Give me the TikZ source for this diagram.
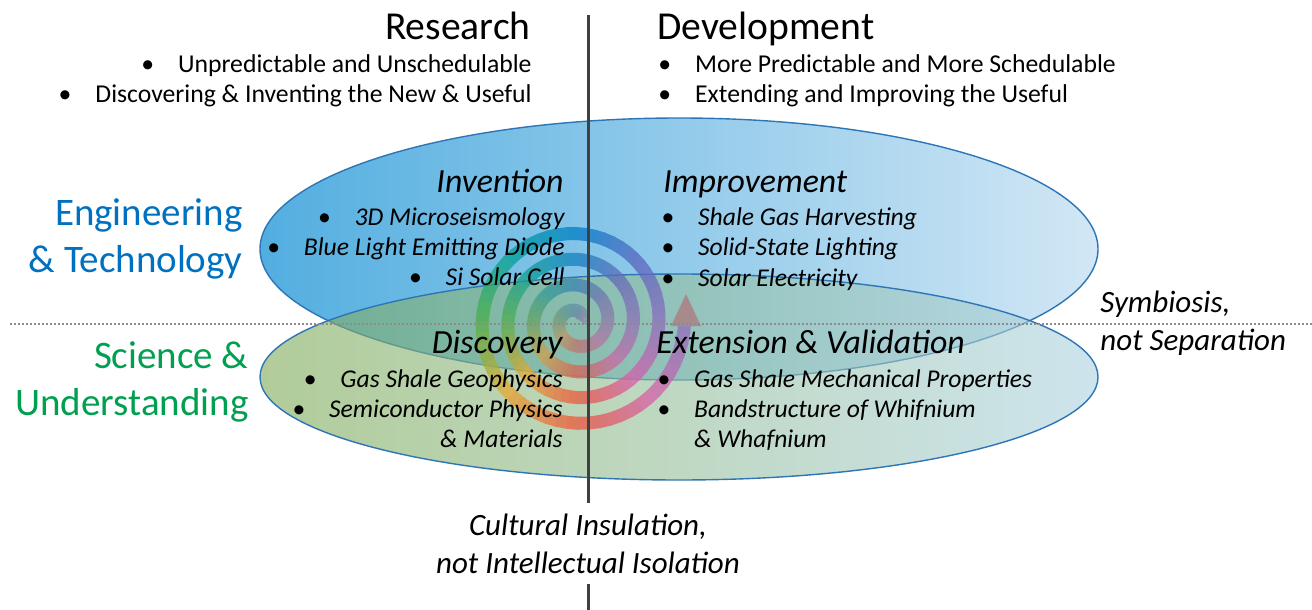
\documentclass[tikz,border=0pt]{standalone}
\usepackage{fontspec}
\setmainfont{Carlito}
\usepackage{tikz}
\definecolor{zoneline}{RGB}{46,117,182}
\definecolor{techL}{RGB}{82,174,224}
\definecolor{techR}{RGB}{210,231,245}
\definecolor{sciL}{RGB}{125,170,85}
\definecolor{sciR}{RGB}{172,210,225}
\definecolor{engblue}{RGB}{0,112,192}
\definecolor{scigreen}{RGB}{0,160,80}
\definecolor{axisgray}{RGB}{64,64,64}
\definecolor{dotgray}{RGB}{140,140,140}
\definecolor{arrowc}{RGB}{175,120,125}
\definecolor{spgray}{RGB}{150,140,150}
\definecolor{sp0}{RGB}{140,110,190}
\definecolor{sp1}{RGB}{90,100,190}
\definecolor{sp2}{RGB}{0,125,200}
\definecolor{sp3}{RGB}{0,160,150}
\definecolor{sp4}{RGB}{80,175,70}
\definecolor{sp5}{RGB}{230,170,50}
\definecolor{sp6}{RGB}{235,85,60}
\definecolor{sp7}{RGB}{215,95,170}
\newcommand{\blt}{\textbullet\hspace{12pt}}
\tikzstyle{techzone}=[draw=zoneline,line width=0.7pt,left color=techL,right color=techR]
\tikzstyle{scizone}=[draw=zoneline,line width=0.7pt,left color=sciL,right color=sciR,fill opacity=0.6]
\tikzstyle{spiralseg}=[line width=6.5pt,line cap=butt]
\tikzstyle{arrowtip}=[fill=arrowc]
\tikzstyle{axisline}=[draw=axisgray,line width=1.5pt]
\tikzstyle{midline}=[draw=dotgray,line width=1pt,dash pattern=on 1pt off 1pt]
\tikzstyle{heading}=[inner sep=0pt,font=\fontsize{19.8}{24}\selectfont]
\tikzstyle{itemtext}=[inner sep=0pt,font=\fontsize{12.85}{15}\selectfont]
\tikzstyle{field}=[inner sep=0pt,font=\fontsize{19.5}{23}\selectfont]
\tikzstyle{stage}=[inner sep=0pt,font=\fontsize{16.9}{20}\selectfont\itshape]
\tikzstyle{case}=[inner sep=0pt,font=\fontsize{12.8}{15}\selectfont\itshape]
\tikzstyle{motto}=[inner sep=5pt,font=\fontsize{15.5}{19}\selectfont\itshape]

\begin{document}
\begin{tikzpicture}[x=0.5pt,y=-0.5pt]
    \useasboundingbox (0,0) rectangle (1312,610);
    \draw[techzone] (679,249) ellipse (419 and 131);
    \draw[scizone] (679,377) ellipse (419 and 103);

    \begin{scope}[transparency group,opacity=0.75]
    \foreach \ang in {-1080,-1074,...,354}{
        \pgfmathsetmacro\sra{82+\ang/14}
        \pgfmathsetmacro\srb{82+(\ang+7)/14}
        \pgfmathsetmacro\sang{mod(\ang+1443,360)}
        \pgfmathtruncatemacro\sk{floor(\sang/45)}
        \pgfmathtruncatemacro\skk{mod(\sk+1,8)}
        \pgfmathtruncatemacro\spc{(\sang-45*\sk)*100/45}
        \pgfmathtruncatemacro\sg{min(100,25+\sra)}
        \colorlet{segc}{sp\skk!\spc!sp\sk}
        \draw[spiralseg,draw=segc!\sg!spgray] ({577+\sra*cos(\ang)},{322-\sra*sin(\ang)}) -- ({577+\srb*cos(\ang+7)},{322-\srb*sin(\ang+7)});
    }
    \fill[arrowtip] (671,326) -- (701,326) -- (686,294) -- cycle;
    \end{scope}

    \coordinate (dl) at (10,324);
    \coordinate (dr) at (1312,324);
    \draw[midline] (dl) -- (dr);

    \coordinate (vtop) at (588,15);
    \coordinate (vbot) at (588,610);
    \node[motto,anchor=base] (cult1) at (588,535) {Cultural Insulation,};
    \node[motto,anchor=base] (cult2) at (588,573) {not Intellectual Isolation};
    \draw[axisline] (vtop) -- (cult1.north);
    \draw[axisline] (cult2.south) -- (vbot);

    \node[heading,anchor=base east] (res) at (531,40) {Research};
    \node[itemtext,anchor=base east] (res1) at (532,73) {\blt Unpredictable and Unschedulable};
    \node[itemtext,anchor=base east] (res2) at (532,103) {\blt Discovering \& Inventing the New \& Useful};
    \node[heading,anchor=base west] (dev) at (657,40) {Development};
    \node[itemtext,anchor=base west] (dev1) at (658,73) {\blt More Predictable and More Schedulable};
    \node[itemtext,anchor=base west] (dev2) at (658,103) {\blt Extending and Improving the Useful};

    \node[field,text=engblue,anchor=base east] (eng1) at (243,225) {Engineering};
    \node[field,text=engblue,anchor=base east] (eng2) at (243,272) {\& Technology};
    \node[field,text=scigreen,anchor=base east] (sci1) at (249,368) {Science \&};
    \node[field,text=scigreen,anchor=base east] (sci2) at (249,415) {Understanding};

    \node[stage,anchor=base east] (inv) at (564,192) {Invention};
    \node[case,anchor=base east] (inv1) at (565,225) {\blt 3D Microseismology};
    \node[case,anchor=base east] (inv2) at (565,255) {\blt Blue Light Emitting Diode};
    \node[case,anchor=base east] (inv3) at (565,285) {\blt Si Solar Cell};
    \node[stage,anchor=base west] (imp) at (663,192) {Improvement};
    \node[case,anchor=base west] (imp1) at (661,225) {\blt Shale Gas Harvesting};
    \node[case,anchor=base west] (imp2) at (661,255) {\blt Solid-State Lighting};
    \node[case,anchor=base west] (imp3) at (661,286) {\blt Solar Electricity};

    \node[stage,anchor=base east] (dis) at (563,353) {Discovery};
    \node[case,anchor=base east] (dis1) at (563,387) {\blt Gas Shale Geophysics};
    \node[case,anchor=base east] (dis2) at (563,417) {\blt Semiconductor Physics};
    \node[case,anchor=base east] (dis3) at (563,447) {\& Materials};
    \node[stage,anchor=base west] (ext) at (656,353) {Extension \& Validation};
    \node[case,anchor=base west] (ext1) at (657,387) {\blt Gas Shale Mechanical Properties};
    \node[case,anchor=base west] (ext2) at (657,417) {\blt Bandstructure of Whifnium};
    \node[case,anchor=base west] (ext3) at (657,447) {\phantom{\textbullet}\hspace{12pt}\& Whafnium};

    \node[motto,inner sep=0pt,anchor=base west] (sym1) at (1100,312) {Symbiosis,};
    \node[motto,inner sep=0pt,anchor=base west] (sym2) at (1100,350) {not Separation};
\end{tikzpicture}
\end{document}
